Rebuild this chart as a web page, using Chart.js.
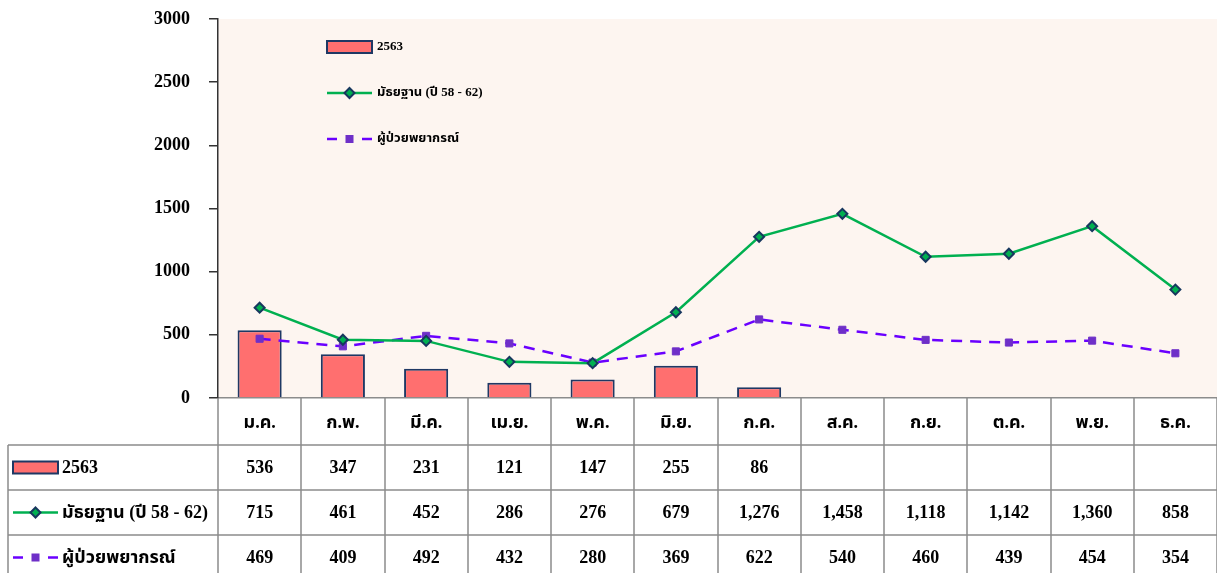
<!DOCTYPE html>
<html>
<head>
<meta charset="utf-8">
<script src="https://cdn.jsdelivr.net/npm/chart.js@4"></script>
<style>
  html, body { margin: 0; padding: 0; background: #ffffff; }
  #wrap { width: 1217px; height: 573px; }
</style>
</head>
<body>
<div id="wrap"><canvas id="patientChart" width="1217" height="573"></canvas></div>
<script>
// data
const months = ['ม.ค.', 'ก.พ.', 'มี.ค.', 'เม.ย.', 'พ.ค.', 'มิ.ย.', 'ก.ค.', 'ส.ค.', 'ก.ย.', 'ต.ค.', 'พ.ย.', 'ธ.ค.'];
const cases2563 = [536, 347, 231, 121, 147, 255, 86, null, null, null, null, null];
const median5862 = [715, 461, 452, 286, 276, 679, 1276, 1458, 1118, 1142, 1360, 858];
const forecast = [469, 409, 492, 432, 280, 369, 622, 540, 460, 439, 454, 354];
const seriesNames = ['2563', 'มัธยฐาน (ปี 58 - 62)', 'ผู้ป่วยพยากรณ์'];
const yTicks = [0, 500, 1000, 1500, 2000, 2500, 3000];

const FONT = '"Liberation Serif", "Times New Roman", "Noto Sans Thai", "Noto Serif Thai", serif';
const barFill = '#FF6F6F', barEdge = '#1F3864';
const greenLine = '#00B050', diamondEdge = '#17375E';
const purpleLine = '#6A00FF', squareFill = '#6E2FC8';
const gridGray = '#8C8C8C';

function drawSymbol(ctx, kind, x, y) {
    // x = left of a 45px wide legend key, y = its centre line
    ctx.save();
    if (kind === 0) {
        ctx.fillStyle = barFill;
        ctx.strokeStyle = barEdge;
        ctx.lineWidth = 2;
        ctx.fillRect(x, y - 6, 45, 12);
        ctx.strokeRect(x, y - 6, 45, 12);
    } else if (kind === 1) {
        ctx.strokeStyle = greenLine;
        ctx.lineWidth = 2.5;
        ctx.beginPath(); ctx.moveTo(x, y); ctx.lineTo(x + 45, y); ctx.stroke();
        ctx.fillStyle = greenLine;
        ctx.strokeStyle = diamondEdge;
        ctx.lineWidth = 2;
        ctx.beginPath();
        ctx.moveTo(x + 22.5, y - 5); ctx.lineTo(x + 27.5, y);
        ctx.lineTo(x + 22.5, y + 5); ctx.lineTo(x + 17.5, y); ctx.closePath();
        ctx.fill(); ctx.stroke();
    } else {
        ctx.strokeStyle = purpleLine;
        ctx.lineWidth = 2.5;
        ctx.beginPath(); ctx.moveTo(x, y); ctx.lineTo(x + 10, y); ctx.stroke();
        ctx.beginPath(); ctx.moveTo(x + 35, y); ctx.lineTo(x + 45, y); ctx.stroke();
        ctx.fillStyle = squareFill;
        ctx.fillRect(x + 18.5, y - 4, 8, 8);
    }
    ctx.restore();
}

const plotBackground = {
    id: 'plotBackground',
    beforeDraw(chart) {
        const { ctx, chartArea: a } = chart;
        ctx.save();
        ctx.fillStyle = '#FDF5F0';
        ctx.fillRect(a.left, a.top, a.right - a.left, a.bottom - a.top);
        ctx.restore();
    }
};

// legend inside the plot and the data table under it
const legendAndTable = {
    id: 'legendAndTable',
    afterDraw(chart) {
        const { ctx, chartArea: a } = chart;
        const xs = chart.scales.x;
        const step = (a.right - a.left) / months.length;

        // inner legend
        ctx.save();
        ctx.font = 'bold 13px ' + FONT;
        ctx.fillStyle = '#000';
        ctx.textBaseline = 'middle';
        [47, 93, 139].forEach((y, i) => {
            drawSymbol(ctx, i, 327, y);
            ctx.fillText(seriesNames[i], 377, y);
        });
        ctx.restore();

        // table grid
        const rows = [a.bottom, 445, 490, 535, 580];
        ctx.save();
        ctx.strokeStyle = gridGray;
        ctx.lineWidth = 1.5;
        ctx.beginPath();
        for (let i = 0; i <= months.length; i++) {
            const x = Math.round(a.left + i * step);
            ctx.moveTo(x, a.bottom); ctx.lineTo(x, 573);
        }
        ctx.moveTo(8, rows[1]); ctx.lineTo(8, 573);
        for (let r = 1; r < 4; r++) {
            ctx.moveTo(8, rows[r]); ctx.lineTo(a.right, rows[r]);
        }
        ctx.stroke();

        ctx.font = 'bold 18px ' + FONT;
        ctx.fillStyle = '#000';
        ctx.textBaseline = 'middle';
        ctx.textAlign = 'center';
        const series = [cases2563, median5862, forecast];
        months.forEach((m, i) => {
            const cx = xs.getPixelForValue(i);
            ctx.fillText(m, cx, (rows[0] + rows[1]) / 2 + 2);
            series.forEach((s, r) => {
                if (s[i] == null) return;
                ctx.fillText(s[i].toLocaleString('en-US'), cx, (rows[r + 1] + rows[r + 2]) / 2 + 1);
            });
        });
        ctx.textAlign = 'left';
        series.forEach((s, r) => {
            const cy = (rows[r + 1] + rows[r + 2]) / 2;
            drawSymbol(ctx, r, 13, cy);
            ctx.fillText(seriesNames[r], 62, cy + 1);
        });
        ctx.restore();
    }
};

const ctx = document.getElementById('patientChart').getContext('2d');
new Chart(ctx, {
    data: {
        labels: months,
        datasets: [
            {
                type: 'line',
                label: seriesNames[1],
                data: median5862,
                borderColor: greenLine,
                borderWidth: 2.5,
                pointStyle: 'rectRot',
                pointRadius: 5,
                pointBackgroundColor: greenLine,
                pointBorderColor: diamondEdge,
                pointBorderWidth: 2,
                tension: 0,
                order: 1
            },
            {
                type: 'line',
                label: seriesNames[2],
                data: forecast,
                borderColor: purpleLine,
                borderWidth: 2.5,
                borderDash: [11, 8],
                pointStyle: 'rect',
                pointRadius: 5,
                pointBackgroundColor: squareFill,
                pointBorderColor: squareFill,
                pointBorderWidth: 1,
                tension: 0,
                order: 2
            },
            {
                type: 'bar',
                label: seriesNames[0],
                data: cases2563,
                backgroundColor: barFill,
                borderColor: barEdge,
                borderWidth: 2,
                categoryPercentage: 1,
                barPercentage: 0.53,
                order: 3
            }
        ]
    },
    options: {
        responsive: false,
        animation: false,
        layout: { autoPadding: false, padding: { top: 19, right: 0, bottom: 175, left: 0 } },
        plugins: {
            legend: { display: false },
            tooltip: { enabled: false }
        },
        scales: {
            x: {
                ticks: { display: false },
                grid: { display: false, drawTicks: false },
                border: { display: true, color: gridGray, width: 1.5 },
                afterFit(s) { s.height = 0; s.paddingTop = 0; s.paddingBottom = 0; }
            },
            y: {
                min: 0,
                max: 3000,
                afterBuildTicks(s) { s.ticks = yTicks.map(v => ({ value: v })); },
                ticks: {
                    padding: 19,
                    color: '#000',
                    font: { family: FONT, size: 18, weight: 'bold' },
                    callback: v => String(v)
                },
                grid: { drawOnChartArea: false, tickLength: 9, color: '#333', lineWidth: 1.5 },
                border: { display: true, color: '#333', width: 1.5 },
                afterFit(s) { s.width = 218; s.paddingTop = 0; s.paddingBottom = 0; }
            }
        }
    },
    plugins: [plotBackground, legendAndTable]
});
</script>
</body>
</html>
